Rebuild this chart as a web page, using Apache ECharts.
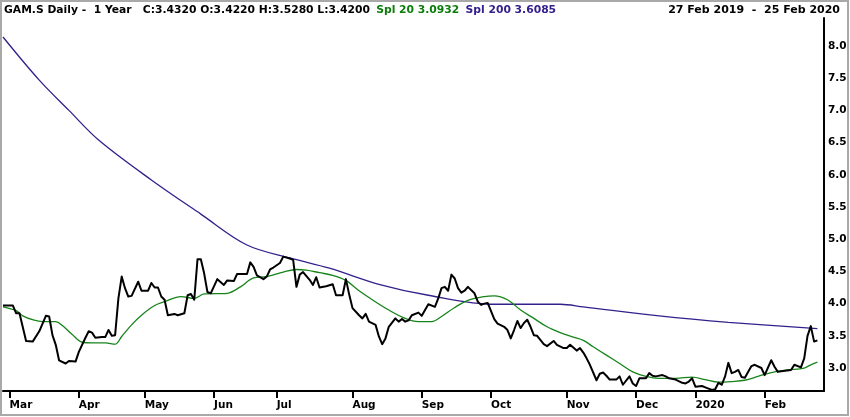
<!DOCTYPE html>
<html>
<head>
    <meta charset="utf-8">
    <title>GAM.S Daily - 1 Year</title>
    <script src="https://cdn.jsdelivr.net/npm/echarts@6/dist/echarts.min.js"></script>
    <style>
        html, body { margin: 0; padding: 0; background: #fff; }
        #main { width: 850px; height: 417px; }
    </style>
</head>
<body>
<div id="main"></div>
<script type="text/javascript">
    // exchange closed on these weekdays (SIX)
    var holidays = ['2019-04-19', '2019-04-22', '2019-05-01', '2019-05-30', '2019-06-10', '2019-08-01',
        '2019-12-24', '2019-12-25', '2019-12-26', '2019-12-31', '2020-01-01', '2020-01-02'];
    var monthNames = ['Jan', 'Feb', 'Mar', 'Apr', 'May', 'Jun', 'Jul', 'Aug', 'Sep', 'Oct', 'Nov', 'Dec'];
    var yTicks = [3.0, 3.5, 4.0, 4.5, 5.0, 5.5, 6.0, 6.5, 7.0, 7.5, 8.0];

    // [trading day index, price]
    var close = [[0,3.97],[3,3.97],[4,3.85],[5,3.85],[7,3.42],[9,3.41],[11,3.57],[13,3.81],[14,3.80],[15,3.51],
        [16,3.36],[17,3.12],[19,3.07],[20,3.11],[22,3.10],[23,3.25],[25,3.47],[26,3.57],[27,3.55],[28,3.47],
        [30,3.48],[31,3.48],[32,3.59],[33,3.50],[34,3.51],[35,4.08],[36,4.42],[37,4.24],[38,4.11],[39,4.12],
        [41,4.34],[42,4.20],[44,4.20],[45,4.32],[46,4.25],[47,4.25],[48,4.11],[49,4.06],[50,3.82],[52,3.84],
        [53,3.82],[55,3.85],[56,4.13],[57,4.15],[58,4.06],[59,4.69],[60,4.69],[61,4.47],[62,4.18],[63,4.16],
        [65,4.38],[67,4.29],[68,4.36],[70,4.35],[71,4.46],[74,4.46],[75,4.64],[76,4.57],[77,4.44],[79,4.38],
        [80,4.42],[81,4.53],[82,4.56],[84,4.63],[85,4.73],[87,4.70],[88,4.68],[89,4.26],[90,4.45],[91,4.49],
        [93,4.37],[94,4.29],[95,4.41],[96,4.25],[98,4.27],[100,4.30],[101,4.13],[103,4.13],[104,4.38],[105,4.14],
        [106,3.93],[108,3.82],[109,3.77],[110,3.84],[111,3.72],[113,3.67],[114,3.49],[115,3.37],[116,3.46],[117,3.64],
        [119,3.77],[120,3.72],[121,3.76],[122,3.72],[123,3.74],[124,3.82],[126,3.86],[127,3.81],[128,3.90],[129,3.99],
        [131,3.95],[132,4.08],[133,4.24],[134,4.26],[135,4.20],[136,4.45],[137,4.39],[138,4.24],[139,4.17],[140,4.20],
        [141,4.26],[143,4.16],[144,4.03],[145,3.98],[146,4.00],[147,4.01],[149,3.76],[150,3.69],[152,3.64],[153,3.59],
        [154,3.46],[155,3.59],[156,3.73],[157,3.62],[158,3.70],[159,3.75],[160,3.64],[161,3.51],[162,3.50],[164,3.37],
        [165,3.34],[167,3.42],[168,3.36],[170,3.31],[171,3.31],[172,3.36],[174,3.27],[175,3.31],[176,3.24],[177,3.15],
        [178,3.05],[180,2.81],[181,2.91],[182,2.93],[183,2.88],[184,2.82],[186,2.82],[187,2.87],[188,2.74],[190,2.87],
        [191,2.76],[192,2.72],[193,2.84],[195,2.84],[196,2.92],[197,2.88],[198,2.87],[200,2.89],[201,2.87],[202,2.84],
        [204,2.82],[206,2.77],[207,2.76],[208,2.79],[209,2.84],[210,2.71],[212,2.72],[213,2.70],[215,2.66],[216,2.67],
        [217,2.77],[218,2.74],[219,2.87],[220,3.08],[221,2.92],[222,2.94],[223,2.97],[224,2.86],[225,2.85],[227,3.03],
        [228,3.05],[230,3.00],[231,2.89],[233,3.12],[234,3.02],[235,2.94],[236,2.95],[239,2.97],[240,3.05],[242,3.01],
        [243,3.15],[244,3.50],[245,3.65],[246,3.41],[247,3.43]];

    // 20 day moving average
    var spl20 = [[0,3.95],[4,3.89],[6,3.81],[9,3.75],[12,3.72],[16,3.72],[18,3.66],[21,3.52],[24,3.40],[27,3.39],
        [31,3.39],[34,3.37],[36,3.49],[39,3.67],[42,3.82],[46,3.97],[49,4.03],[54,4.11],[58,4.08],[61,4.15],
        [68,4.16],[72,4.26],[76,4.40],[80,4.42],[85,4.49],[89,4.53],[92,4.52],[96,4.48],[100,4.44],[104,4.36],
        [108,4.20],[112,4.06],[117,3.90],[122,3.77],[126,3.72],[130,3.72],[133,3.80],[137,3.94],[141,4.05],[146,4.11],
        [149,4.12],[153,4.06],[157,3.90],[161,3.77],[165,3.64],[169,3.55],[173,3.48],[176,3.43],[179,3.33],[183,3.20],
        [187,3.07],[191,2.94],[195,2.87],[199,2.84],[204,2.84],[209,2.86],[213,2.82],[217,2.78],[221,2.79],[225,2.81],
        [229,2.87],[233,2.93],[238,2.97],[243,3.00],[245,3.05],[247,3.09]];

    // 200 day moving average
    var spl200 = [[0,8.14],[11,7.47],[20,7.00],[29,6.54],[45,5.92],[60,5.39],[74,4.91],[87,4.71],[99,4.55],[114,4.30],
        [129,4.13],[149,3.99],[169,3.99],[176,3.95],[199,3.81],[220,3.71],[247,3.61]];

    // trading days 27 Feb 2019 .. 27 Feb 2020 (last two are empty room on the right)
    var days = [];
    for (var d = new Date(Date.UTC(2019, 1, 27)); d.getTime() <= Date.UTC(2020, 1, 27); d.setUTCDate(d.getUTCDate() + 1)) {
        var wd = d.getUTCDay(), s = d.toISOString().slice(0, 10);
        if (wd !== 0 && wd !== 6 && holidays.indexOf(s) < 0) days.push(s);
    }

    function monthStart(i) {
        return i > 0 && days[i].slice(5, 7) !== days[i - 1].slice(5, 7);
    }

    var chart = echarts.init(document.getElementById('main'));
    var option = {
        animation: false,
        backgroundColor: '#fff',
        textStyle: { fontFamily: 'DejaVu Sans' },
        title: [{
            left: 4,
            top: 1,
            padding: 0,
            text: '{k|GAM.S Daily -  1 Year   C:3.4320 O:3.4220 H:3.5280 L:3.4200} {g|Spl 20 3.0932} {p|Spl 200 3.6085}',
            textStyle: {
                rich: {
                    k: { color: '#000', fontSize: 10.75, fontWeight: 'bold', fontFamily: 'DejaVu Sans' },
                    g: { color: '#0b7d0b', fontSize: 10.75, fontWeight: 'bold', fontFamily: 'DejaVu Sans' },
                    p: { color: '#34208c', fontSize: 10.75, fontWeight: 'bold', fontFamily: 'DejaVu Sans' }
                }
            }
        }, {
            right: 10,
            top: 5,
            padding: 0,
            text: '27 Feb 2019  -  25 Feb 2020',
            textStyle: { color: '#000', fontSize: 11, fontWeight: 'bold', fontFamily: 'DejaVu Sans' }
        }],
        graphic: [{
            type: 'rect',
            shape: { x: 1, y: 1, width: 847, height: 414 },
            style: { fill: null, stroke: '#a9a9a9', lineWidth: 2 },
            silent: true
        }],
        grid: { left: 3, right: 26, top: 18, bottom: 26 },
        xAxis: {
            type: 'category',
            data: days,
            boundaryGap: false,
            axisLine: { lineStyle: { color: '#000', width: 2 } },
            axisTick: { interval: function (i) { return monthStart(i); }, length: 7, lineStyle: { color: '#000', width: 2 } },
            axisLabel: {
                interval: function (i) { return monthStart(i); },
                formatter: function (v) {
                    var m = +v.slice(5, 7) - 1;
                    return m === 0 ? v.slice(0, 4) : monthNames[m];
                },
                align: 'left',
                margin: 9,
                color: '#000',
                fontSize: 10.5,
                fontWeight: 'bold'
            },
            splitLine: { show: false }
        },
        yAxis: {
            type: 'value',
            position: 'right',
            min: 2.643,
            max: 8.435,
            minInterval: 0.5,
            maxInterval: 0.5,
            axisLine: { show: true, lineStyle: { color: '#000', width: 2 } },
            axisTick: { show: false },
            axisLabel: {
                showMinLabel: false,
                showMaxLabel: false,
                margin: 4,
                color: '#000',
                fontSize: 10.5,
                fontWeight: 'bold',
                formatter: function (v) { return yTicks.indexOf(+v.toFixed(1)) >= 0 ? v.toFixed(1) : ''; }
            },
            splitLine: { show: false }
        },
        series: [{
            name: 'Spl 200',
            type: 'line',
            data: spl200,
            showSymbol: false,
            smooth: 0.35,
            lineStyle: { color: '#34208c', width: 1.3 }
        }, {
            name: 'Spl 20',
            type: 'line',
            data: spl20,
            showSymbol: false,
            smooth: 0.35,
            lineStyle: { color: '#16841a', width: 1.3 }
        }, {
            name: 'GAM.S',
            type: 'line',
            data: close,
            showSymbol: false,
            lineStyle: { color: '#000', width: 2, join: 'round' }
        }]
    };
    chart.setOption(option);
</script>
</body>
</html>
